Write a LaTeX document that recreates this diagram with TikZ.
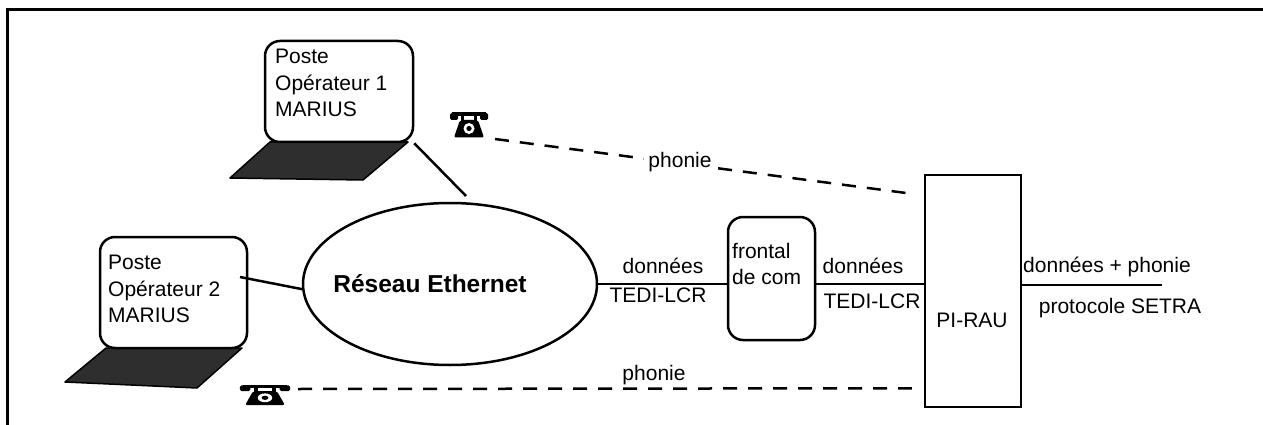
\documentclass[tikz,border=0pt]{standalone}
\usepackage{fontspec}
\setmainfont{Liberation Sans}
\usetikzlibrary{shapes.geometric,calc}

% Old-style desk telephone: handset on its cradle, bell-shaped body, round dial
\tikzset{telephone/.pic={
  \fill (-17,-12.5) rectangle (17,-8.5);
  \fill[rounded corners=1.5pt] (-19,-12) rectangle (-11,-5);
  \fill[rounded corners=1.5pt] (11,-12) rectangle (19,-5);
  \fill (-8,-9) rectangle (-5,-4);
  \fill (5,-9) rectangle (8,-4);
  \fill[rounded corners=2pt] (-9,-5) -- (9,-5) -- (15,12.5) -- (-15,12.5) -- cycle;
  \fill[white] (0,3.5) circle (5.5);
  \fill (0,3.5) circle (2.6);
}}

\begin{document}
\begin{tikzpicture}[x=1pt,y=-1pt,
  wire/.style={line width=2.5pt},
  phoneline/.style={line width=2.5pt, dash pattern=on 14pt off 11pt},
  screen/.style={draw, line width=2.5pt, fill=white, rounded corners=15pt, inner sep=0},
  keyboard/.style={fill=black!82, draw=black, line width=1.5pt, line join=round},
  lbl/.style={inner sep=0, font=\fontsize{21}{26.5}\selectfont},
  boldlbl/.style={inner sep=0, font=\bfseries\fontsize{24.5}{29}\selectfont}
]
\useasboundingbox (0,0) rectangle (1263,425);

% open frame (left and top edges)
\draw[line width=3pt] (7,425) -- (7,10) -- (1263,10);

% keyboards of the two workstations
\filldraw[keyboard] (270,142) -- (408,142) -- (363,180) -- (230,178) -- cycle;
\filldraw[keyboard] (106,348) -- (242,348) -- (197,388) -- (65,382) -- cycle;

% screens
\node[screen, minimum width=148pt, minimum height=101pt] (scr1) at (339,91.5) {};
\node[screen, minimum width=147pt, minimum height=111pt] (scr2) at (173.5,292.5) {};
\node[lbl, align=left, anchor=north west] (txt1) at (275,49) {Poste\\Opérateur 1\\MARIUS};
\node[lbl, align=left, anchor=north west] (txt2) at (108,255) {Poste\\Opérateur 2\\MARIUS};

% Ethernet network
\node[draw, line width=2.5pt, ellipse, minimum width=294pt, minimum height=162pt, inner sep=0] (eth) at (450,284) {};
\node[boldlbl, anchor=base] (ethlbl) at (430,292) {Réseau Ethernet};

% communication front-end
\node[draw, line width=2.5pt, rounded corners=15pt, minimum width=87pt, minimum height=123pt, inner sep=0] (frontal) at (771.5,278.5) {};
\node[lbl, align=left, anchor=north west] (frontlbl) at (732,243) {frontal\\de com};

% PI-RAU
\node[draw, line width=2.5pt, minimum width=96pt, minimum height=232pt, inner sep=0] (pirau) at (973,291) {};
\node[lbl, anchor=base] (piraulbl) at (972,327) {PI-RAU};

% telephones
\pic at (469,125) {telephone};
\pic[xscale=1.32, yscale=0.8] at (265,395) {telephone};
\coordinate (ph1) at (495,139);
\coordinate (ph2) at (298,389);

% links
\coordinate (lk1) at (466,196);
\coordinate (lk2) at (240,277);
\coordinate (setra) at (1162,285);
\draw[wire] (scr1.south east) -- (lk1);
\draw[wire] (lk2) -- (eth.182);
\draw[wire] (eth.east) -- (eth.east -| frontal.west);
\draw[wire] (frontal.east |- eth.east) -- (pirau.west |- eth.east);
\draw[wire] (pirau.east |- setra) -- (setra);

% voice links
\draw[phoneline] (ph1) -- ($(pirau.north west)+(-12,20)$);
\draw[phoneline] (ph2) -- ($(pirau.south west)+(-12,-20)$);

% link labels
\node[lbl, fill=white, inner sep=4pt, anchor=base] (phon1) at (680,167) {phonie};
\node[lbl, anchor=base] (phon2) at (654,380) {phonie};
\node[lbl, anchor=base] (d1) at (663,273) {données};
\node[lbl, anchor=base] (t1) at (658,302) {TEDI-LCR};
\node[lbl, anchor=base] (d2) at (863,273) {données};
\node[lbl, anchor=base] (t2) at (872,308) {TEDI-LCR};
\node[lbl, anchor=base] (d3) at (1107,272) {données + phonie};
\node[lbl, anchor=base] (p3) at (1120,313) {protocole SETRA};
\end{tikzpicture}
\end{document}
